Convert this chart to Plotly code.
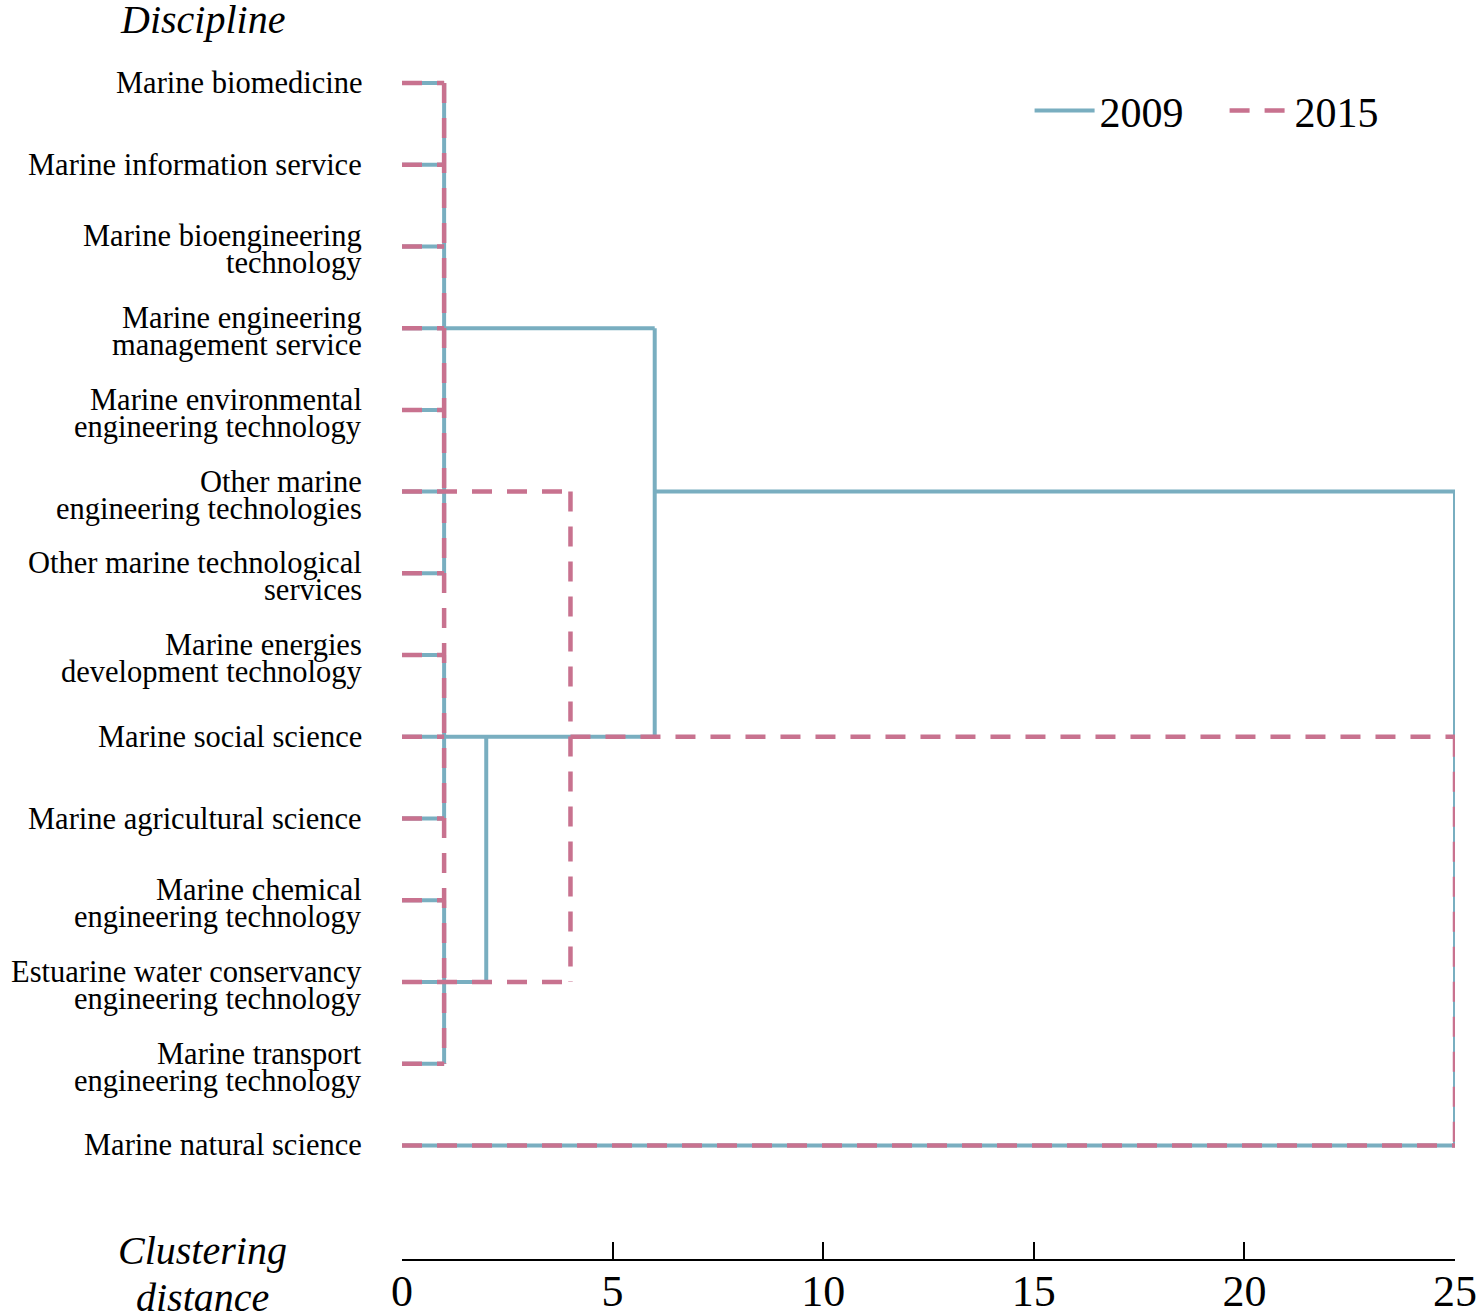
import plotly.graph_objects as go

# -----------------------------
# Colours / fonts
# -----------------------------
TEAL = "#79AEC0"
PINK = "#C8728F"
SERIF = "Liberation Serif"

# -----------------------------
# Data (rescaled clustering distance 0-25)
# -----------------------------
DISCIPLINES = [
    "Marine biomedicine",
    "Marine information service",
    "Marine bioengineering<br>technology",
    "Marine engineering<br>management service",
    "Marine environmental<br>engineering technology",
    "Other marine<br>engineering technologies",
    "Other marine technological<br>services",
    "Marine energies<br>development technology",
    "Marine social science",
    "Marine agricultural science",
    "Marine chemical<br>engineering technology",
    "Estuarine water conservancy<br>engineering technology",
    "Marine transport<br>engineering technology",
    "Marine natural science",
]

X_TICKS = [0, 5, 10, 15, 20, 25]

# distance reached by each leaf's horizontal line (from 0)
LEAF_2009 = [1, 1, 1, 6, 1, 1, 1, 1, 6, 1, 1, 2, 1, 25]
LEAF_2015 = [1, 1, 1, 1, 1, 4, 1, 1, 1, 1, 1, 4, 1, 25]

# vertical links: (distance, from row, to row)
VERT_2009 = [(1, 0, 6), (1, 7, 9), (1, 10, 12), (2, 8, 11), (6, 3, 8), (25, 5, 13)]
VERT_2015 = [(1, 0, 12), (4, 5, 11), (25, 8, 13)]

# extra horizontal links: (row, from distance, to distance)
HORZ_2009 = [(5, 6, 25)]
HORZ_2015 = [(8, 4, 25)]


def dendro_path(leaf, vert, horz):
    xs, ys = [], []
    for row, reach in enumerate(leaf):
        xs += [0, reach, None]
        ys += [DISCIPLINES[row], DISCIPLINES[row], None]
    for dist, r0, r1 in vert:
        xs += [dist, dist, None]
        ys += [DISCIPLINES[r0], DISCIPLINES[r1], None]
    for row, d0, d1 in horz:
        xs += [d0, d1, None]
        ys += [DISCIPLINES[row], DISCIPLINES[row], None]
    return xs, ys


fig = go.Figure()

x09, y09 = dendro_path(LEAF_2009, VERT_2009, HORZ_2009)
fig.add_trace(go.Scatter(
    x=x09, y=y09, mode="lines", name="2009",
    line=dict(color=TEAL, width=4),
    cliponaxis=False, hoverinfo="skip"
))

x15, y15 = dendro_path(LEAF_2015, VERT_2015, HORZ_2015)
fig.add_trace(go.Scatter(
    x=x15, y=y15, mode="lines", name="2015",
    line=dict(color=PINK, width=4.5, dash="20px,15px"),
    cliponaxis=False, hoverinfo="skip"
))

# -----------------------------
# Row labels (tight line spacing)
# -----------------------------
annotations = []
for name in DISCIPLINES:
    lines = name.split("<br>")
    shifts = [0] if len(lines) == 1 else [10, -17]
    for text, shift in zip(lines, shifts):
        annotations.append(dict(
            xref="paper", x=0, xanchor="right", xshift=-38,
            yref="y", y=name, yanchor="middle", yshift=shift,
            text=text, showarrow=False,
            font=dict(family=SERIF, size=30.5, color="black")
        ))

annotations += [
    dict(xref="paper", x=0, xshift=-200, xanchor="center",
         yref="paper", y=1, yshift=21, yanchor="middle",
         text="<i>Discipline</i>", showarrow=False,
         font=dict(family=SERIF, size=40, color="black")),
    dict(xref="paper", x=0, xshift=-200, xanchor="center",
         yref="paper", y=0, yshift=9, yanchor="middle",
         text="<i>Clustering</i>", showarrow=False,
         font=dict(family=SERIF, size=40, color="black")),
    dict(xref="paper", x=0, xshift=-200, xanchor="center",
         yref="paper", y=0, yshift=-38, yanchor="middle",
         text="<i>distance</i>", showarrow=False,
         font=dict(family=SERIF, size=40, color="black")),
]

fig.update_layout(
    width=1476, height=1312,
    margin=dict(l=402, r=21, t=40, b=53),
    plot_bgcolor="white",
    paper_bgcolor="white",
    font=dict(family=SERIF, color="black"),
    showlegend=True,
    legend=dict(
        orientation="h",
        x=0.596, xanchor="left",
        y=0.942, yanchor="middle",
        font=dict(family=SERIF, size=42, color="black"),
        itemwidth=60,
        entrywidth=120,
        bgcolor="rgba(0,0,0,0)"
    ),
    annotations=annotations,
    xaxis=dict(
        range=[0, 25],
        tickvals=X_TICKS,
        ticks="inside", ticklen=17, tickwidth=2, tickcolor="black",
        showline=True, linecolor="black", linewidth=2,
        showgrid=False, zeroline=False,
        automargin=False,
        ticklabeloverflow="allow",
        ticklabelstandoff=-8,
        tickfont=dict(family=SERIF, size=44, color="black"),
    ),
    yaxis=dict(
        type="category",
        categoryorder="array", categoryarray=DISCIPLINES,
        range=[14.39, -0.526],
        automargin=False,
        showticklabels=False, showgrid=False, zeroline=False,
        showline=False, ticks="",
    ),
)

# drop the default page margin so the figure fills the window exactly
fig.write_html(
    "out.html",
    config={"displayModeBar": False},
    post_script="document.body.style.margin = '0';"
)
